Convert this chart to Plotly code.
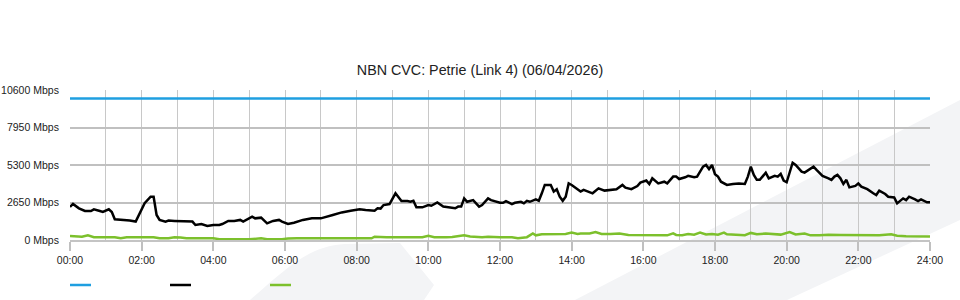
import plotly.graph_objects as go

# ---------------- data ----------------
title_text = "NBN CVC: Petrie (Link 4) (06/04/2026)"
y_ticks = [0, 2650, 5300, 7950, 10600]
y_tick_labels = ["0 Mbps", "2650 Mbps", "5300 Mbps", "7950 Mbps", "10600 Mbps"]
x_tick_hours = list(range(0, 25, 2))
x_tick_labels = ["%02d:00" % h for h in x_tick_hours]

capacity_minutes = [0, 1440]
capacity_mbps = [10000, 10000]

down_minutes = [0, 5, 15, 25, 35, 40, 50, 55, 65, 70, 75, 90, 100, 110, 120, 125, 135, 140, 145, 150,
                160, 165, 175, 190, 205, 210, 220, 230, 240, 250, 255, 265, 275, 285, 290, 305, 310, 320,
                330, 340, 350, 355, 365, 375, 390, 405, 420, 440, 455, 470, 485, 495, 510, 515, 520, 525,
                535, 545, 555, 565, 570, 575, 580, 590, 600, 605, 615, 625, 635, 645, 650, 655, 660, 665,
                675, 685, 690, 700, 705, 720, 725, 730, 740, 745, 755, 760, 765, 770, 780, 785, 790, 795,
                805, 810, 815, 820, 825, 830, 835, 840, 855, 860, 875, 885, 895, 905, 915, 925, 930, 940,
                950, 955, 965, 970, 975, 985, 995, 1000, 1010, 1015, 1020, 1030, 1035, 1045, 1050, 1060,
                1065, 1070, 1075, 1080, 1085, 1090, 1100, 1110, 1120, 1130, 1135, 1140, 1145, 1150, 1155,
                1165, 1170, 1180, 1185, 1190, 1195, 1200, 1210, 1215, 1225, 1230, 1235, 1245, 1250, 1260,
                1270, 1275, 1280, 1285, 1290, 1295, 1300, 1305, 1315, 1320, 1325, 1335, 1345, 1350, 1355,
                1365, 1370, 1380, 1385, 1395, 1400, 1405, 1415, 1420, 1425, 1435, 1440]
down_mbps = [2340, 2550, 2240, 2050, 2050, 2170, 2050, 1980, 2170, 1980, 1460, 1420, 1370, 1300, 2120, 2600,
             3060, 3060, 1770, 1420, 1300, 1370, 1350, 1350, 1300, 1060, 1130, 990, 1060, 1060, 1130, 1350,
             1350, 1420, 1300, 1650, 1530, 1580, 1180, 1350, 1420, 1300, 1130, 1220, 1420, 1530, 1530, 1770,
             1950, 2070, 2170, 2120, 2070, 2240, 2220, 2470, 2540, 3300, 2750, 2750, 2700, 2770, 2310, 2310,
             2470, 2420, 2660, 2360, 2310, 2240, 2360, 2360, 2940, 2700, 2820, 2360, 2470, 2940, 2820, 2630,
             2630, 2750, 2540, 2630, 2700, 2590, 2770, 2700, 2870, 2770, 3300, 3890, 3890, 3420, 3590, 3060,
             2770, 3060, 4000, 3890, 3420, 3540, 3300, 3650, 3490, 3540, 3590, 3890, 3700, 3590, 3810, 4050,
             4200, 3960, 4360, 4000, 4120, 4000, 4480, 4480, 4310, 4430, 4530, 4430, 4480, 5180, 5300, 5010,
             5300, 4650, 4480, 4120, 3890, 3960, 4000, 3960, 4480, 5180, 4600, 4250, 4250, 4760, 4360, 4530,
             4480, 4670, 4200, 4080, 5460, 5300, 4830, 4760, 4900, 5180, 4950, 4530, 4360, 4250, 4480, 4600,
             4360, 3960, 4250, 3720, 3820, 4000, 3770, 3590, 3300, 3180, 3490, 3250, 3060, 3010, 2590, 2940,
             2820, 3060, 2870, 2750, 2870, 2660, 2660]

up_minutes = [0, 10, 20, 30, 40, 60, 75, 85, 95, 140, 150, 165, 175, 185, 195, 225, 240, 250, 300, 320, 330,
              355, 365, 380, 400, 430, 470, 505, 510, 530, 570, 580, 590, 600, 610, 630, 640, 660, 670, 690,
              700, 720, 740, 750, 760, 765, 775, 780, 790, 810, 830, 840, 850, 855, 870, 880, 890, 905, 920,
              935, 950, 965, 990, 1000, 1010, 1015, 1025, 1035, 1045, 1055, 1065, 1075, 1085, 1095, 1100,
              1115, 1130, 1140, 1150, 1165, 1180, 1190, 1205, 1215, 1230, 1240, 1255, 1270, 1290, 1310, 1325,
              1340, 1355, 1375, 1385, 1400, 1420, 1440]
up_mbps = [280, 250, 230, 330, 200, 190, 190, 120, 190, 190, 120, 120, 190, 180, 120, 120, 120, 60, 50, 120, 60,
           60, 110, 120, 110, 120, 120, 120, 230, 190, 190, 230, 190, 300, 200, 190, 210, 340, 250, 200,
           230, 190, 200, 130, 200, 200, 460, 330, 400, 400, 420, 520, 430, 460, 460, 560, 420, 430, 460,
           350, 350, 340, 340, 330, 470, 360, 340, 420, 380, 520, 390, 420, 380, 520, 400,
           350, 340, 500, 410, 460, 410, 380, 560, 390, 450, 330, 330, 370, 360, 350, 350,
           380, 340, 400, 300, 270, 250, 240]

# ---------------- layout helpers ----------------
W, H = 960, 300
L, R, T, B = 70, 930, 90, 240


def px(x):
    return (x - L) / (R - L)


def py(y):
    return (B - y) / (B - T)


BLUE = "#1f9fe0"
BLACK = "#000000"
GREEN = "#7cc02c"
BAND = "#f3f4f6"

fig = go.Figure()
fig.add_trace(go.Scatter(x=[m / 60 for m in capacity_minutes], y=capacity_mbps, mode="lines",
                         line=dict(color=BLUE, width=2.5), showlegend=False, hoverinfo="skip"))
fig.add_trace(go.Scatter(x=[m / 60 for m in up_minutes], y=up_mbps, mode="lines",
                         line=dict(color=GREEN, width=2.5), showlegend=False))
fig.add_trace(go.Scatter(x=[m / 60 for m in down_minutes], y=down_mbps, mode="lines",
                         line=dict(color=BLACK, width=2.5), showlegend=False))

shapes = []
# decorative background shapes
blob = "M %f,%f C %f,%f %f,%f %f,%f L %f,%f L %f,%f L %f,%f Z" % (
    px(250), py(300), px(290), py(265), px(310), py(246), px(345), py(244),
    px(400), py(243), px(434), py(285), px(424), py(300))
shapes.append(dict(type="path", path=blob, xref="paper", yref="paper", fillcolor=BAND,
                   line=dict(width=0), layer="below"))
band = "M %f,%f L %f,%f L %f,%f L %f,%f Z" % (
    px(575), py(300), px(960), py(100), px(960), py(220), px(787), py(300))
shapes.append(dict(type="path", path=band, xref="paper", yref="paper", fillcolor=BAND,
                   line=dict(width=0), layer="below"))
# legend swatches
for x0, c in [(70, BLUE), (170, BLACK), (270, GREEN)]:
    shapes.append(dict(type="line", xref="paper", yref="paper", x0=px(x0), x1=px(x0 + 21),
                       y0=py(285), y1=py(285), line=dict(color=c, width=2.5)))

fig.update_layout(
    width=W, height=H,
    margin=dict(l=L, r=W - R, t=T, b=H - B, autoexpand=False),
    paper_bgcolor="white", plot_bgcolor="rgba(0,0,0,0)",
    font=dict(family="Liberation Sans, Arial, sans-serif", size=10.5, color="#333333"),
    title=dict(text=title_text, x=0.5, xref="container", xanchor="center",
               y=1 - 70 / H, yref="container", yanchor="middle",
               font=dict(size=14.3, color="#222222")),
    shapes=shapes,
    showlegend=False,
)
fig.update_xaxes(range=[0, 24], tickvals=x_tick_hours, ticktext=x_tick_labels,
                 showgrid=True, gridcolor="#c8c8c8", gridwidth=1,
                 minor=dict(dtick=1, tick0=0, showgrid=True, gridcolor="#c8c8c8", gridwidth=1),
                 ticks="outside", ticklen=9, tickcolor="#c0c0c0", tickwidth=1.5,
                 showline=True, linecolor="#c4c4c4", linewidth=2, zeroline=False,
                 automargin=False, tickfont=dict(size=10.5, color="#222222"))
fig.update_yaxes(range=[0, 10600], tickvals=y_ticks, ticktext=y_tick_labels,
                 showgrid=True, gridcolor="#c0c0c0", gridwidth=2, zeroline=False,
                 ticks="outside", ticklen=8, tickcolor="rgba(0,0,0,0)", automargin=False,
                 tickfont=dict(size=10.5, color="#222222"))

fig.write_html("out.html")
